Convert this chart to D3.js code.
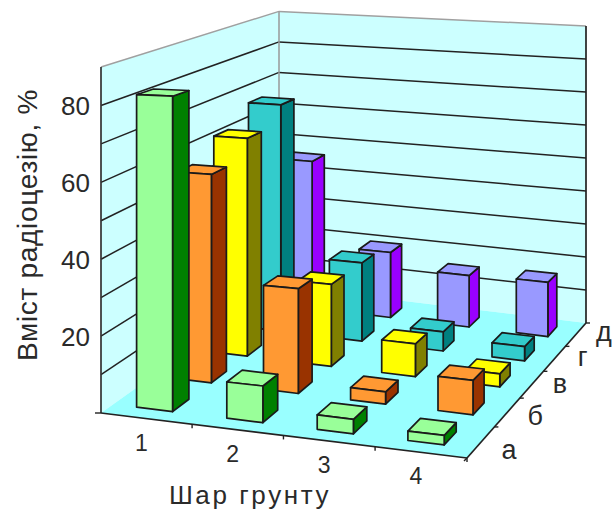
<!DOCTYPE html>
<html><head><meta charset="utf-8">
<script src="https://cdn.jsdelivr.net/npm/d3@7"></script>
<style>html,body{margin:0;padding:0;background:#fff}svg{display:block}text{font-family:"Liberation Sans",Arial,sans-serif;fill:#2a2a2a}</style>
</head><body><div id="c"></div>
<script>
const layers=["1","2","3","4"];
const rows=["а","б","в","г","д"];
const yTicks=[0,10,20,30,40,50,60,70,80,90];
const yLabels=[20,40,60,80];
const seriesA=[82,9.3,3.6,2.3];
const seriesB=[57,28,3.2,8.8];
const seriesC=[62.5,23,9,3.5];
const seriesD=[68,23,5.5,4];
const seriesE=[46,20,15.5,16];
const values=[seriesA,seriesB,seriesC,seriesD,seriesE];
const fills=["#99FF99","#FF9933","#FFFF00","#33CCCC","#9999FF"];
const sides=["#008000","#993300","#808000","#008080","#9900FF"];

const W=613,H=511;
const svg=d3.select("#c").append("svg").attr("width",W).attr("height",H);

const P00=[101,413],P10=[467,458],P11=[586,323],P01=[279,286];
const dx1=[P10[0]-P11[0],P10[1]-P11[1]],dx2=[P01[0]-P11[0],P01[1]-P11[1]];
const s=[P00[0]-P10[0]+P11[0]-P01[0],P00[1]-P10[1]+P11[1]-P01[1]];
const det=dx1[0]*dx2[1]-dx2[0]*dx1[1];
const g=(s[0]*dx2[1]-dx2[0]*s[1])/det,h=(dx1[0]*s[1]-s[0]*dx1[1])/det;
const a=P10[0]-P00[0]+g*P10[0],b=P01[0]-P00[0]+h*P01[0],d=P10[1]-P00[1]+g*P10[1],e=P01[1]-P00[1]+h*P01[1];
const uS=d3.scaleLinear().domain([0,layers.length]).range([0,1]);
const vS=d3.scaleLinear().domain([0,rows.length]).range([0,1]);
const yS=d3.scaleLinear().domain([0,90]).range([0,346]);
function proj(c,r,val){
  const u=uS(c),v=vS(r),w=g*u+h*v+1;
  const hw=1-0.095*u+0.26*v;
  return [(a*u+b*v+P00[0])/w,(d*u+e*v+P00[1])/w-yS(val)/hw];
}
const line=pts=>"M"+pts.map(p=>p.map(n=>n.toFixed(1)).join(",")).join("L")+"Z";
const nC=layers.length,nR=rows.length;

svg.append("path").attr("d",line([proj(0,0,0),proj(0,nR,0),proj(0,nR,90),proj(0,0,90)])).attr("fill","#CCFFFF");
svg.append("path").attr("d",line([proj(0,nR,0),proj(nC,nR,0),proj(nC,nR,90),proj(0,nR,90)])).attr("fill","#CCFFFF");
svg.append("path").attr("d",line([proj(0,0,0),proj(nC,0,0),proj(nC,nR,0),proj(0,nR,0)])).attr("fill","#99FFFF");

const gl=(p,q,c,w)=>svg.append("line").attr("x1",p[0]).attr("y1",p[1]).attr("x2",q[0]).attr("y2",q[1]).attr("stroke",c).attr("stroke-width",w);
yTicks.forEach(t=>{
  if(t===0)return;
  const col=t===90?"#a0a0a0":"#222";
  gl(proj(0,0,t),proj(0,nR,t),col,1.5);
  gl(proj(0,nR,t),proj(nC,nR,t),col,1.5);
});
gl(proj(0,nR,0),proj(0,nR,90),"#999",1.5);
gl(proj(nC,nR,0),proj(nC,nR,90),"#222",1.7);
gl(proj(0,0,0),proj(0,0,90),"#333",1.7);
gl(proj(0,0,0),proj(nC,0,0),"#222",1.7);
gl(proj(nC,0,0),proj(nC,nR,0),"#222",1.7);
const tick=(p,dx,dy)=>gl(p,[p[0]+dx,p[1]+dy],"#222",1.4);
tick(proj(0,0,0),-6,0);
d3.range(1,nC+1).forEach(c=>tick(proj(c,0,0),0,4));
d3.range(0,nR+1).forEach(r=>tick(proj(nC,r,0),r===0?-3:4,r===0?3:0));

const bw=0.2,bd=0.21;
const barG=svg.append("g").attr("stroke","#1a1a1a").attr("stroke-width",1.7).attr("stroke-linejoin","round");
d3.range(nR-1,-1,-1).forEach(r=>{
  layers.forEach((_,c)=>{
    const val=values[r][c],cx=c+.5-0.04+0.01*r,cz=r+.5;
    const l=cx-bw,rr=cx+bw,f=cz-bd,k=cz+bd;
    barG.append("path").attr("d",line([proj(rr,f,0),proj(rr,k,0),proj(rr,k,val),proj(rr,f,val)])).attr("fill",sides[r]);
    barG.append("path").attr("d",line([proj(l,f,val),proj(rr,f,val),proj(rr,k,val),proj(l,k,val)])).attr("fill",fills[r]);
    barG.append("path").attr("d",line([proj(l,f,0),proj(rr,f,0),proj(rr,f,val),proj(l,f,val)])).attr("fill",fills[r]);
  });
});

const tx=(x,y,t,size,anchor)=>svg.append("text").attr("x",x).attr("y",y).attr("font-size",size).attr("text-anchor",anchor||"middle").text(t);
yLabels.forEach(t=>{const p=proj(0,0,t);tx(p[0]-11,p[1]+10,t,26,"end");});
layers.forEach((t,c)=>{const p=proj(c+.5,0,0);tx(p[0]-5,p[1]+32,t,23);});
rows.forEach((t,r)=>{const p=proj(nC,r+.5,0);tx(p[0]+28,p[1]+9+(2-r)*2.5+(r-2)*(r-2)*.75,t,27);});
tx(250,504,"Шар грунту",26).attr("letter-spacing",2.6);
svg.append("text").attr("transform","translate(37,225) rotate(-90)").attr("text-anchor","middle").attr("font-size",28).attr("letter-spacing",0.7).text("Вміст радіоцезію, %");
</script></body></html>
